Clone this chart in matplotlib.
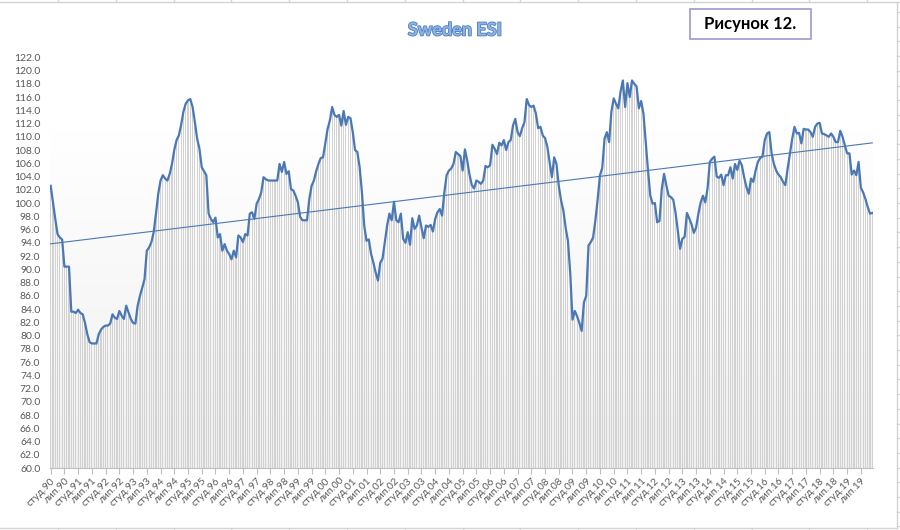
import numpy as np
import matplotlib
matplotlib.use("Agg")
import matplotlib.pyplot as plt
import matplotlib.patheffects as pe
from matplotlib.lines import Line2D
from matplotlib.patches import Rectangle

plt.rcParams['font.family'] = ['Lato', 'Open Sans', 'DejaVu Sans']

# monthly Sweden ESI, Jan 1990 .. Dec 2019
esi = [
    102.6, 100.1, 97.6, 95.3, 94.8, 94.5, 90.4, 90.4, 90.4, 83.6, 83.6, 83.4,
    83.9, 83.4, 83.2, 81.9, 80.2, 79.0, 78.8, 78.8, 78.8, 80.2, 80.9, 81.3,
    81.5, 81.5, 81.8, 83.2, 82.7, 82.5, 83.7, 83.0, 82.5, 84.5, 83.5, 82.5,
    81.9, 81.8, 84.5, 86.0, 87.2, 88.5, 92.8, 93.3, 94.1, 95.6, 98.4, 101.4,
    103.4, 104.2, 103.7, 103.4, 104.4, 105.9, 108.0, 109.5, 110.2, 111.8, 113.8, 115.0,
    115.5, 115.7, 114.5, 112.2, 109.7, 108.2, 105.4, 104.8, 104.2, 98.4, 97.6, 97.1,
    97.8, 94.8, 95.3, 92.8, 93.8, 92.8, 92.3, 91.5, 92.8, 91.8, 95.1, 94.8,
    94.1, 95.3, 95.1, 98.4, 98.6, 97.6, 99.9, 100.6, 101.6, 103.9, 103.6, 103.4,
    103.4, 103.4, 103.4, 103.4, 105.9, 104.7, 106.2, 104.4, 104.8, 102.1, 101.9, 101.1,
    100.1, 97.9, 97.4, 97.4, 97.4, 100.6, 102.6, 103.4, 104.8, 105.9, 106.8, 106.9,
    109.0, 111.2, 112.5, 114.5, 113.3, 113.0, 113.3, 111.7, 113.9, 111.8, 113.0, 112.8,
    110.7, 108.0, 107.7, 105.4, 101.6, 96.6, 94.3, 94.5, 92.3, 91.0, 89.5, 88.3,
    91.0, 91.6, 94.1, 96.6, 98.4, 97.4, 100.2, 97.4, 97.1, 98.4, 94.6, 94.0,
    95.6, 93.7, 97.7, 96.1, 96.6, 98.1, 96.3, 94.7, 96.6, 96.4, 96.7, 95.7,
    97.6, 98.6, 99.1, 98.1, 101.6, 104.2, 104.9, 105.2, 105.9, 107.7, 107.4, 107.1,
    104.9, 108.1, 106.4, 104.3, 102.7, 102.2, 103.4, 103.2, 102.9, 103.4, 105.6, 105.4,
    105.7, 108.8, 108.2, 107.4, 109.1, 108.7, 109.5, 108.0, 109.2, 109.5, 111.7, 112.7,
    110.7, 110.1, 111.3, 112.2, 115.7, 114.8, 114.5, 114.7, 113.5, 111.3, 111.5, 110.2,
    109.8, 108.5, 106.2, 103.9, 106.9, 105.9, 102.6, 100.4, 98.9, 96.3, 94.3, 89.5,
    82.4, 83.7, 82.9, 81.9, 80.7, 85.0, 86.0, 93.6, 94.1, 94.8, 97.4, 100.6,
    104.2, 105.3, 109.7, 110.7, 109.2, 113.8, 115.8, 115.0, 114.3, 116.8, 118.5, 114.5,
    118.1, 116.0, 118.5, 118.0, 117.6, 114.3, 115.4, 113.5, 109.2, 104.9, 101.1, 99.9,
    100.0, 97.1, 97.3, 102.1, 104.4, 102.7, 101.1, 100.9, 100.5, 98.6, 95.8, 93.1,
    94.6, 94.9, 98.5, 97.7, 96.8, 95.5, 96.3, 98.4, 100.1, 101.1, 100.1, 102.2,
    106.2, 106.7, 107.0, 104.0, 103.8, 104.3, 102.7, 104.2, 104.2, 105.4, 103.7, 105.9,
    105.0, 106.4, 105.7, 103.9, 102.4, 101.4, 103.7, 103.2, 104.9, 106.2, 106.8, 107.0,
    109.5, 110.5, 110.7, 107.5, 105.9, 104.9, 104.3, 103.9, 103.2, 102.7, 105.2, 107.5,
    109.7, 111.5, 110.5, 110.6, 109.0, 111.2, 111.1, 111.1, 110.7, 110.0, 111.5, 112.0,
    112.1, 110.5, 110.4, 110.2, 110.0, 110.5, 110.0, 109.2, 109.2, 110.9, 110.0, 108.7,
    107.5, 107.5, 104.3, 104.9, 104.2, 106.2, 102.3, 101.6, 100.6, 99.4, 98.4, 98.5,
]
years = list(range(1990, 2020))
half_year_names = ['студ.', 'лип.']

title = 'Sweden ESI'
caption = 'Рисунок 12.'

esi = np.array(esi)
x = np.arange(len(esi))
tick_pos = x[::6]
tick_labels = [f'{half_year_names[k % 2]}{years[k // 2] % 100:02d}' for k in range(len(tick_pos))]

W, H = 900, 530
fig = plt.figure(figsize=(W / 100, H / 100), dpi=100)
ax = fig.add_axes([50 / W, 1 - 468 / H, 823 / W, (468 - 57.3) / H])

x0, x1 = -0.3, len(esi) - 0.7
y0, y1 = 60, 122
ax.set_xlim(x0, x1)
ax.set_ylim(y0, y1)

# plot area gradient, white on top, faint grey at the bottom
grad = np.linspace(0, 1, 256).reshape(-1, 1)
grad = np.clip((grad - 0.18) / 0.82, 0, 1)
cols = np.ones((256, 1, 3)) - grad[..., None] * 0.06
ax.imshow(cols, extent=[x0, x1, y0, y1], aspect='auto', origin='upper', zorder=0)

ax.bar(x, esi - y0, bottom=y0, width=0.5, color='#d2d2d2', linewidth=0, zorder=1)
ax.plot(x, esi, color='#4a78b4', lw=1.6, zorder=3, solid_joinstyle='round')

# linear trend
k, b = np.polyfit(x, esi, 1)
ax.plot([x[0], x[-1]], [k * x[0] + b, k * x[-1] + b], color='#4a78b4', lw=0.8, zorder=2)

ax.set_yticks(np.arange(60, 123, 2))
ax.set_yticklabels([f'{v:.1f}' for v in np.arange(60, 123, 2)])
ax.tick_params(axis='y', length=0, labelsize=7.5, labelcolor='#595959', pad=7)
ax.set_xticks(tick_pos)
ax.set_xticklabels(tick_labels, rotation=45, ha='right', va='top', rotation_mode='anchor')
ax.tick_params(axis='x', length=4, color='#bfbfbf', labelsize=7.3, labelcolor='#595959', pad=2)
for s in ['top', 'right', 'left']:
    ax.spines[s].set_visible(False)
ax.spines['bottom'].set_color('#bfbfbf')

fig.text(455 / W, 1 - 30 / H, title, ha='center', va='center', fontsize=13,
         color='#8fb4e3', fontweight='bold',
         path_effects=[pe.withStroke(linewidth=1.2, foreground='#4f7fbf')])

# caption box
fig.add_artist(Rectangle((690 / W, 1 - 39 / H), 121 / W, 30 / H, transform=fig.transFigure,
                         facecolor='white', edgecolor='#9999cc', lw=1.2))
fig.text(750 / W, 1 - 24 / H, caption, ha='center', va='center', fontsize=12,
         fontweight='bold', color='black')


# worksheet grid bits around the chart
def fline(xs, ys, **kw):
    fig.add_artist(Line2D([v / W for v in xs], [1 - v / H for v in ys],
                          transform=fig.transFigure, color='#d4d4d4', lw=1, **kw))


fline([0, W], [2, 2])
fline([0, 897], [528, 528])
fline([897, 897], [2, 528])
cx = 58.0
while cx < W:
    fline([cx, cx], [0, 2])
    fline([cx, cx], [528, H])
    cx += 57.8
ry = 12.0
while ry < H:
    fline([897, W], [ry, ry])
    ry += 14.7

fig.savefig('out.png', dpi=100)
